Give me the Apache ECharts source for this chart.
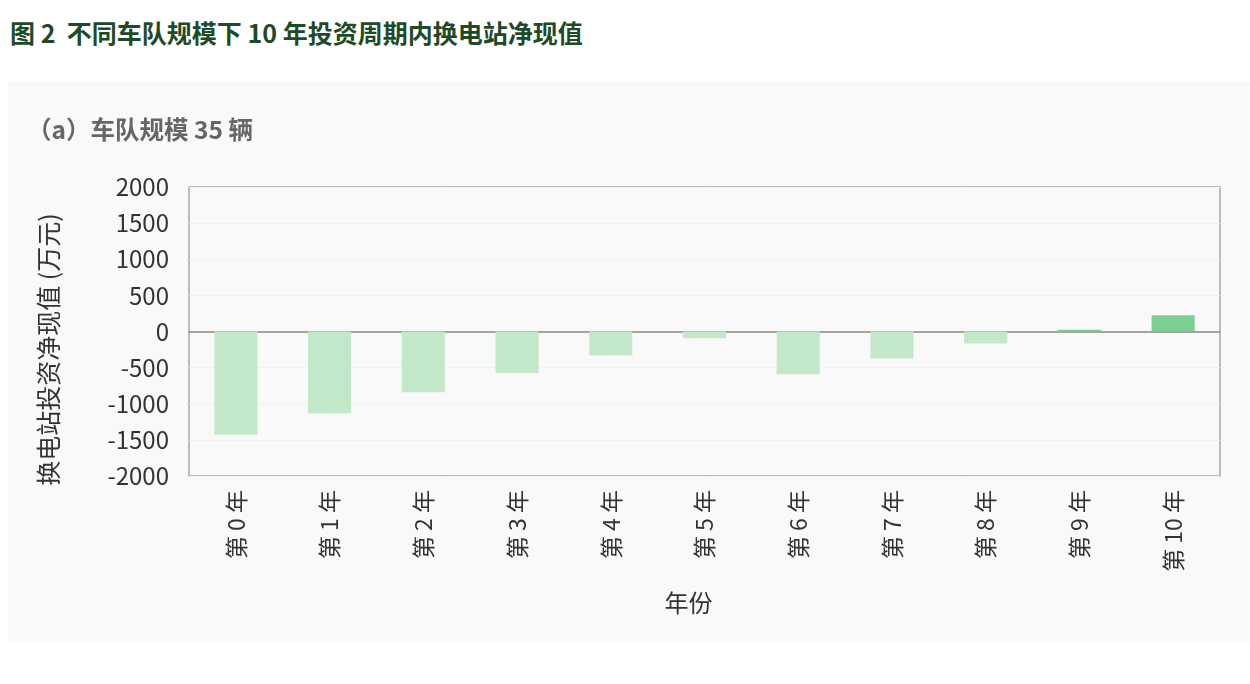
<!DOCTYPE html>
<html lang="zh">
<head>
    <meta charset="UTF-8">
    <title>不同车队规模下 10 年投资周期内换电站净现值</title>
    <script src="https://cdn.jsdelivr.net/npm/echarts@6/dist/echarts.min.js"></script>
    <style>
        html, body {
            margin: 0;
            padding: 0;
            background: #ffffff;
            font-family: "Noto Sans CJK SC", "Noto Sans", sans-serif;
        }
        .title {
            position: absolute;
            left: 10px;
            top: 14px;
            font-size: 25px;
            font-weight: bold;
            color: #1e4a28;
        }
        .panel {
            position: absolute;
            left: 8px;
            top: 82px;
            width: 1242px;
            height: 560px;
            background: #f9f9f9;
        }
        #chart {
            position: absolute;
            left: 0;
            top: 0;
            width: 1250px;
            height: 684px;
        }
    </style>
</head>
<body>
    <div class="title">图 2&nbsp; 不同车队规模下 10 年投资周期内换电站净现值</div>
    <div class="panel"></div>
    <div id="chart"></div>
    <script>
        // 数据
        var years = ['第 0 年', '第 1 年', '第 2 年', '第 3 年', '第 4 年', '第 5 年',
                     '第 6 年', '第 7 年', '第 8 年', '第 9 年', '第 10 年'];
        var npv = [-1430, -1130, -840, -575, -330, -95, -590, -375, -165, 25, 225];
        var yTicks = [-2000, 2000, 500];   // min, max, interval

        var chart = echarts.init(document.getElementById('chart'));
        var labelFont = '"Noto Sans CJK SC", "Noto Sans", sans-serif';

        chart.setOption({
            animation: false,
            title: {
                text: '（a）车队规模 35 辆',
                left: 22,
                top: 112,
                textStyle: {
                    fontSize: 24.5,
                    fontWeight: 'bold',
                    color: '#666666',
                    fontFamily: labelFont
                }
            },
            grid: {
                left: 189,
                right: 30,
                top: 187,
                bottom: 208,
                show: true,
                borderColor: '#a8a8a8',
                borderWidth: 1.5,
                backgroundColor: 'transparent'
            },
            xAxis: {
                type: 'category',
                data: years,
                name: '年份',
                nameLocation: 'middle',
                nameGap: 115,
                nameTextStyle: {
                    fontSize: 24,
                    color: '#333',
                    fontFamily: labelFont,
                    padding: [0, 32, 0, 0]
                },
                axisLine: { onZero: true, lineStyle: { color: '#888', width: 1.5 } },
                axisTick: { show: false },
                axisLabel: {
                    rotate: 90,
                    margin: 14,
                    fontSize: 23,
                    color: '#333',
                    fontFamily: labelFont
                }
            },
            yAxis: {
                type: 'value',
                min: yTicks[0],
                max: yTicks[1],
                interval: yTicks[2],
                name: '换电站投资净现值 (万元)',
                nameLocation: 'middle',
                nameGap: 128,
                nameTextStyle: {
                    fontSize: 25,
                    color: '#333',
                    fontFamily: labelFont,
                    padding: [0, 36, 0, 0]
                },
                axisLine: { show: false },
                axisTick: { show: false },
                splitLine: { lineStyle: { color: '#f1f1f1' } },
                axisLabel: {
                    fontSize: 24,
                    margin: 20,
                    color: '#333',
                    fontFamily: labelFont,
                    formatter: function (v) { return String(v); }
                }
            },
            series: [{
                type: 'bar',
                data: npv,
                barWidth: '46%',
                itemStyle: {
                    color: function (p) {
                        return p.value >= 0 ? '#7ccf93' : '#c3e8c9';
                    }
                }
            }]
        });
    </script>
</body>
</html>
